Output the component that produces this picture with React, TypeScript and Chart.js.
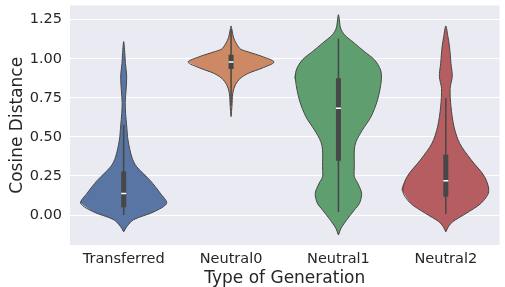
import React, { useEffect, useRef } from 'react';
import { Chart, registerables } from 'chart.js';

Chart.register(...registerables);

// ---------- data ----------
const categories = ['Transferred', 'Neutral0', 'Neutral1', 'Neutral2'];
const fillColors = ['#5975a4', '#cc8963', '#5f9e6e', '#b55d60'];
const yTicks = [0, 0.25, 0.5, 0.75, 1.0, 1.25];

// violin profiles: values (ascending) and relative half-widths (1 = widest)
const transferredVals = [-0.107, -0.075, -0.03, 0.02, 0.075, 0.14, 0.22, 0.31, 0.37, 0.48, 0.57, 0.65, 0.72, 0.8, 0.89, 0.97, 1.04, 1.11];
const transferredWidths = [0, 0.07, 0.23, 0.7, 1.0, 0.85, 0.62, 0.3, 0.19, 0.1, 0.07, 0.045, 0.035, 0.055, 0.07, 0.04, 0.025, 0];

const neutral0Vals = [0.63, 0.694, 0.78, 0.833, 0.876, 0.908, 0.94, 0.979, 1.015, 1.043, 1.062, 1.09, 1.133, 1.186, 1.21];
const neutral0Widths = [0, 0.02, 0.04, 0.1, 0.22, 0.41, 0.72, 1.0, 0.72, 0.41, 0.22, 0.14, 0.06, 0.02, 0];

const neutral1Vals = [-0.128, -0.085, -0.021, 0.032, 0.075, 0.139, 0.203, 0.245, 0.31, 0.417, 0.47, 0.545, 0.63, 0.737, 0.865, 0.929, 0.993, 1.047, 1.1, 1.154, 1.197, 1.282];
const neutral1Widths = [0, 0.06, 0.22, 0.37, 0.49, 0.54, 0.45, 0.37, 0.37, 0.37, 0.41, 0.56, 0.76, 0.91, 1.0, 0.98, 0.84, 0.6, 0.37, 0.14, 0.05, 0];

const neutral2Vals = [-0.107, -0.075, -0.043, 0.01, 0.075, 0.15, 0.246, 0.353, 0.46, 0.566, 0.694, 0.81, 0.887, 0.97, 1.08, 1.14, 1.21];
const neutral2Widths = [0, 0.06, 0.16, 0.47, 0.82, 1.0, 0.9, 0.59, 0.32, 0.19, 0.12, 0.1, 0.15, 0.12, 0.085, 0.05, 0];

// inner box statistics per category
const whiskerLow = [0.0, 0.7, 0.02, 0.006];
const whiskerHigh = [0.577, 1.19, 1.13, 0.748];
const q1 = [0.05, 0.934, 0.348, 0.117];
const q3 = [0.278, 1.026, 0.876, 0.385];
const medians = [0.137, 0.979, 0.684, 0.22];

const violinVals = [transferredVals, neutral0Vals, neutral1Vals, neutral2Vals];
const violinWidths = [transferredWidths, neutral0Widths, neutral1Widths, neutral2Widths];

const HALF = 0.4; // max half-width in category units
const EDGE = '#474747';
const TEXT = '#262626';
const TENSION = 0.3;

type P = { x: number; y: number };

function buildViolin(i: number, vals: number[], widths: number[]) {
  const n = vals.length;
  const L = (j: number): P => ({ x: i - widths[j] * HALF, y: vals[j] });
  const R = (j: number): P => ({ x: i + widths[j] * HALF, y: vals[j] });
  let k = 0;
  widths.forEach((w, j) => { if (w > widths[k]) k = j; });
  // fill path: starts at leftmost point, ends at rightmost point
  const fillPts: P[] = [];
  for (let j = k; j >= 0; j--) fillPts.push(L(j));
  for (let j = 0; j < n; j++) { if (j === 0 && widths[0] === 0) continue; fillPts.push(R(j)); }
  for (let j = n - 1; j >= k; j--) { if (j === n - 1 && widths[n - 1] === 0) continue; fillPts.push(L(j)); }
  fillPts.push(R(k));
  // outline path
  const outline: P[] = [];
  for (let j = 0; j < n; j++) outline.push(R(j));
  for (let j = n - 1; j >= 0; j--) { if (j === n - 1 && widths[n - 1] === 0) continue; outline.push(L(j)); }
  return { fillPts, outline };
}

export default function App() {
  const ref = useRef<HTMLCanvasElement | null>(null);

  useEffect(() => {
    document.body.style.margin = '0';
    const canvas = ref.current;
    if (!canvas) return;
    Chart.defaults.font.family = "'DejaVu Sans', sans-serif";
    Chart.defaults.color = TEXT;

    const datasets: any[] = [];
    categories.forEach((_, i) => {
      const { fillPts, outline } = buildViolin(i, violinVals[i], violinWidths[i]);
      datasets.push({
        data: fillPts, showLine: true, fill: 'shape', backgroundColor: fillColors[i],
        borderWidth: 0, borderColor: 'rgba(0,0,0,0)', pointRadius: 0, tension: TENSION, order: 10,
      });
      datasets.push({
        data: outline, showLine: true, fill: false, borderColor: EDGE, borderWidth: 1,
        pointRadius: 0, tension: TENSION, order: 8,
      });
      datasets.push({
        data: [{ x: i, y: whiskerLow[i] }, { x: i, y: whiskerHigh[i] }], showLine: true, fill: false,
        borderColor: EDGE, borderWidth: 1.5, pointRadius: 0, order: 6,
      });
      datasets.push({
        data: [{ x: i, y: q1[i] }, { x: i, y: q3[i] }], showLine: true, fill: false,
        borderColor: EDGE, borderWidth: 5, borderCapStyle: 'butt', pointRadius: 0, order: 4,
      });
    });
    datasets.push({
      data: medians.map((m, i) => ({ x: i, y: m })), showLine: false, fill: false,
      pointStyle: 'line', pointRadius: 2.5, pointBorderColor: '#ffffff', pointBorderWidth: 1.5,
      pointBackgroundColor: '#ffffff', order: 1,
    });

    const bgPlugin = {
      id: 'plotBg',
      beforeDraw(chart: any) {
        const { ctx, chartArea } = chart;
        ctx.save();
        ctx.fillStyle = '#eaeaf2';
        ctx.fillRect(chartArea.left, chartArea.top, chartArea.right - chartArea.left, chartArea.bottom - chartArea.top);
        ctx.restore();
      },
    };

    const chart = new Chart(canvas, {
      type: 'line',
      data: { datasets },
      plugins: [bgPlugin],
      options: {
        responsive: false,
        animation: false,
        events: [],
        layout: { padding: { left: 0, right: 5, top: 5, bottom: 0 } },
        plugins: { legend: { display: false }, tooltip: { enabled: false } },
        scales: {
          x: {
            type: 'linear', min: -0.5, max: 3.5, offset: false,
            grid: { display: false, drawTicks: false },
            border: { display: false },
            afterBuildTicks: (s: any) => { s.ticks = categories.map((_, i) => ({ value: i })); },
            afterFit: (s: any) => { s.height = 42; s.paddingLeft = 0; s.paddingRight = 0; },
            ticks: {
              autoSkip: false, maxRotation: 0, padding: 6, color: TEXT,
              font: { size: 14.5 },
              callback: (v: any) => categories[Math.round(Number(v))] ?? '',
            },
            title: {
              display: true, text: 'Type of Generation', color: TEXT,
              font: { size: 17, lineHeight: 1.0 }, padding: { top: 0, bottom: 0 },
            },
          },
          y: {
            type: 'linear', min: -0.192, max: 1.341,
            grid: { color: '#ffffff', lineWidth: 1, drawTicks: false },
            border: { display: false },
            afterBuildTicks: (s: any) => { s.ticks = yTicks.map((v) => ({ value: v })); },
            afterFit: (s: any) => { s.width = 70; s.paddingTop = 0; s.paddingBottom = 0; },
            ticks: {
              padding: 8, color: TEXT, font: { size: 14.5 },
              callback: (v: any) => Number(v).toFixed(2),
            },
            title: {
              display: true, text: 'Cosine Distance', color: TEXT,
              font: { size: 17 }, padding: { top: 7, bottom: 0 },
            },
          },
        },
      },
    } as any);
    return () => chart.destroy();
  }, []);

  return (
    <div style={{ width: 505, height: 287 }}>
      <canvas ref={ref} width={505} height={287} style={{ display: 'block' }} />
    </div>
  );
}
